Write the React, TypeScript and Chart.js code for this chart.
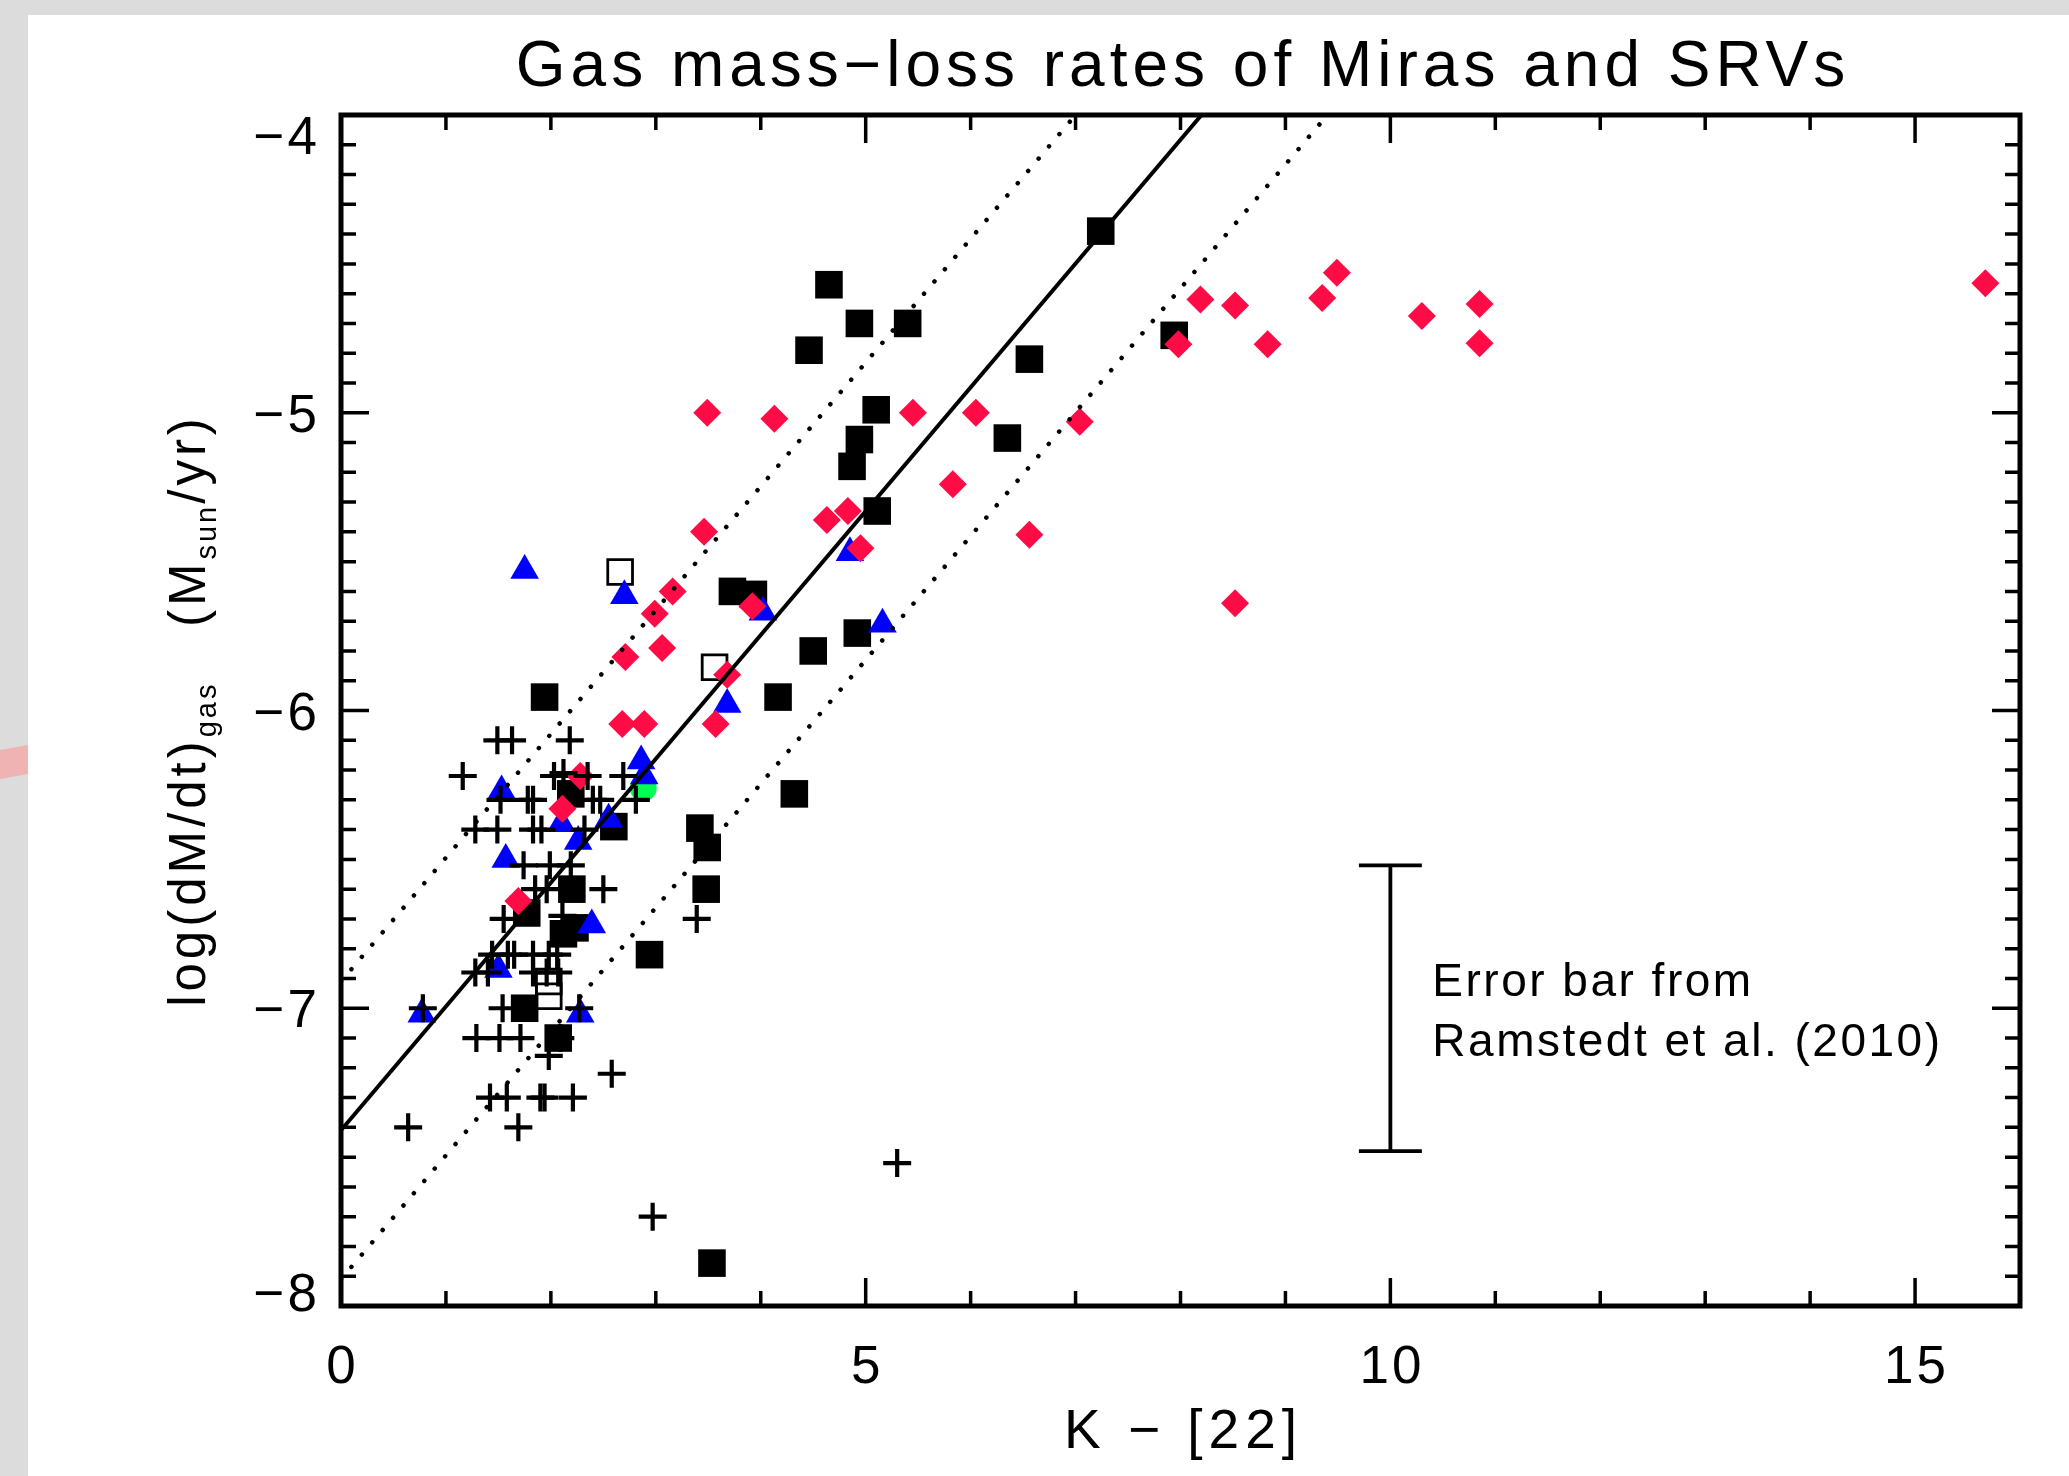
import React, { useEffect, useRef } from "react";
import { Chart, registerables } from "chart.js";

Chart.register(...registerables);

// ---------- axes ----------
const xRange = [0, 16];
const yRange = [-8, -4];
const xTickValues = [0, 5, 10, 15];
const xTickLabels = ["0", "5", "10", "15"];
const yTickValues = [-8, -7, -6, -5, -4];
const yTickLabels = ["−8", "−7", "−6", "−5", "−4"];
const xMinorStep = 1;
const yMinorStep = 0.1;

const titleText = "Gas mass−loss rates of Miras and SRVs";
const xTitleText = "K − [22]";
const errorNote = ["Error bar from", "Ramstedt et al. (2010)"];

// ---------- data ----------
// plus signs
const plusX = [
  1.49, 1.63, 2.18,
  1.16, 2.03, 2.12, 2.35, 2.69,
  1.52, 1.78, 1.83, 2.40, 2.47, 2.81,
  1.28, 1.49, 1.83, 1.91, 2.32,
  1.74, 1.99, 2.19,
  1.85, 1.96, 2.50,
  1.55, 2.11, 3.39,
  1.44, 1.59, 1.65, 1.83, 1.98, 2.06,
  1.28, 1.40, 1.83, 1.96, 2.07,
  0.78, 1.54, 2.27,
  1.29, 1.51, 1.71, 2.09,
  1.98, 2.58,
  1.42, 1.58, 1.90, 1.94, 2.21,
  0.64, 1.69,
  2.97, 5.30,
];
const plusY = [
  -6.10, -6.10, -6.10,
  -6.22, -6.22, -6.21, -6.22, -6.22,
  -6.30, -6.30, -6.30, -6.30, -6.30, -6.30,
  -6.40, -6.40, -6.40, -6.40, -6.40,
  -6.52, -6.52, -6.52,
  -6.60, -6.60, -6.60,
  -6.70, -6.69, -6.70,
  -6.82, -6.82, -6.82, -6.82, -6.82, -6.82,
  -6.88, -6.88, -6.88, -6.88, -6.88,
  -7.00, -7.00, -7.00,
  -7.10, -7.10, -7.10, -7.10,
  -7.16, -7.22,
  -7.30, -7.30, -7.30, -7.30, -7.30,
  -7.40, -7.40,
  -7.70, -7.52,
];

// filled black squares
const squareX = [
  7.24, 4.65, 4.94, 5.40, 4.46, 6.56, 7.94, 5.10, 4.94, 4.87, 6.35, 5.11,
  3.73, 3.93, 4.92, 4.50, 1.94, 4.165, 4.32, 3.42, 3.49, 3.48, 2.94, 3.535,
  2.60, 2.19, 2.20, 1.77, 2.12, 2.23, 1.75, 2.07,
];
const squareY = [
  -4.39, -4.57, -4.70, -4.70, -4.79, -4.82, -4.74, -4.99, -5.09, -5.18, -5.085, -5.33,
  -5.60, -5.61, -5.74, -5.80, -5.955, -5.955, -6.28, -6.395, -6.46, -6.60, -6.82, -7.856,
  -6.39, -6.28, -6.60, -6.68, -6.75, -6.73, -7.00, -7.10,
];

// open squares
const openSquareX = [2.66, 3.56, 1.98, 1.98];
const openSquareY = [-5.535, -5.855, -6.91, -6.96];

// blue triangles
const triangleX = [1.75, 2.70, 4.02, 4.85, 5.16, 3.68, 2.86, 2.89, 1.53, 2.55, 2.10, 2.26, 1.57, 2.39, 1.50, 0.77, 2.28];
const triangleY = [-5.53, -5.615, -5.67, -5.47, -5.71, -5.98, -6.17, -6.22, -6.27, -6.365, -6.38, -6.44, -6.50, -6.72, -6.87, -7.02, -7.02];

// red diamonds
const diamondX = [
  3.49, 4.13, 5.45, 6.05, 7.04, 5.83, 4.63, 4.83, 4.95, 3.46, 6.56, 3.16,
  2.99, 3.92, 2.71, 3.06, 3.68, 2.68, 2.89, 3.57, 2.28, 2.11, 1.69,
  8.19, 7.98, 8.52, 8.83, 9.35, 9.49, 10.30, 10.85, 10.85, 15.67, 8.52,
];
const diamondY = [
  -5.00, -5.02, -5.00, -5.00, -5.03, -5.24, -5.36, -5.33, -5.455, -5.40, -5.41, -5.60,
  -5.675, -5.65, -5.82, -5.79, -5.88, -6.045, -6.045, -6.045, -6.22, -6.33, -6.64,
  -4.62, -4.77, -4.64, -4.77, -4.615, -4.53, -4.675, -4.635, -4.767, -4.565, -5.64,
];

// green circle
const circleX = [2.88];
const circleY = [-6.26];

// fit line and +-0.5 dex lines (end points)
const fitX = [0, 8.2];
const fitY = [-7.41, -4.0];
const upperX = [0, 7.0];
const upperY = [-6.91, -4.0];
const lowerX = [0, 9.4];
const lowerY = [-7.91, -4.0];

// error bar
const errX = 10.0;
const errTop = -6.52;
const errBottom = -7.48;
const errCapHalf = 0.3;

const pts = (xs: number[], ys: number[]) => xs.map((x, i) => ({ x, y: ys[i] }));

const FONT = '"Liberation Sans", Arial, sans-serif';

function setFont(ctx: any, size: number, spacing: number) {
  ctx.font = `${size}px ${FONT}`;
  ctx.letterSpacing = `${spacing}px`;
}

const idlPlugin = {
  id: "idlFrame",
  afterDraw(chart: any) {
    const ctx = chart.ctx;
    const a = chart.chartArea;
    const xs = chart.scales.x;
    const ys = chart.scales.y;
    ctx.save();
    ctx.strokeStyle = "#000";
    ctx.fillStyle = "#000";
    ctx.lineCap = "butt";

    // ticks (inward, all four sides)
    ctx.lineWidth = 3.5;
    const nx = Math.round((xRange[1] - xRange[0]) / xMinorStep);
    for (let i = 0; i <= nx; i++) {
      const v = xRange[0] + i * xMinorStep;
      const px = xs.getPixelForValue(v);
      const major = xTickValues.some((t) => Math.abs(t - v) < 1e-6);
      const len = major ? 28 : 15;
      ctx.beginPath();
      ctx.moveTo(px, a.bottom);
      ctx.lineTo(px, a.bottom - len);
      ctx.moveTo(px, a.top);
      ctx.lineTo(px, a.top + len);
      ctx.stroke();
    }
    const ny = Math.round((yRange[1] - yRange[0]) / yMinorStep);
    for (let i = 0; i <= ny; i++) {
      const v = yRange[0] + i * yMinorStep;
      const py = ys.getPixelForValue(v);
      const major = yTickValues.some((t) => Math.abs(t - v) < 1e-6);
      const len = major ? 28 : 15;
      ctx.beginPath();
      ctx.moveTo(a.left, py);
      ctx.lineTo(a.left + len, py);
      ctx.moveTo(a.right, py);
      ctx.lineTo(a.right - len, py);
      ctx.stroke();
    }
    ctx.lineWidth = 5;
    ctx.strokeRect(a.left, a.top, a.right - a.left, a.bottom - a.top);

    // tick labels
    ctx.textBaseline = "alphabetic";
    setFont(ctx, 53, 3);
    ctx.textAlign = "center";
    xTickValues.forEach((v, i) => {
      ctx.fillText(xTickLabels[i], xs.getPixelForValue(v) + 1.5, a.bottom + 77);
    });
    ctx.textAlign = "right";
    yTickValues.forEach((v, i) => {
      let cy = ys.getPixelForValue(v);
      cy = Math.max(a.top + 20, Math.min(a.bottom - 14, cy));
      ctx.fillText(yTickLabels[i], a.left - 21, cy + 19);
    });

    // title
    const cx = (a.left + a.right) / 2;
    setFont(ctx, 64, 5);
    ctx.textAlign = "center";
    ctx.fillText(titleText, cx + 2.5, 86);

    // x title
    setFont(ctx, 55, 6);
    ctx.fillText(xTitleText, cx + 3, a.bottom + 142);

    // y title (rotated, with subscripts)
    const segs = [
      { t: "log(dM/dt)", s: 51, sp: 4, dy: 0 },
      { t: "gas", s: 29, sp: 3, dy: 11 },
      { t: "   (M", s: 51, sp: 4, dy: 0 },
      { t: "sun", s: 29, sp: 3, dy: 11 },
      { t: "/yr)", s: 51, sp: 4, dy: 0 },
    ];
    let total = 0;
    const widths = segs.map((g) => {
      setFont(ctx, g.s, g.sp);
      const w = ctx.measureText(g.t).width;
      total += w;
      return w;
    });
    ctx.save();
    ctx.translate(205, (a.top + a.bottom) / 2);
    ctx.rotate(-Math.PI / 2);
    ctx.textAlign = "left";
    let pos = -total / 2;
    segs.forEach((g, i) => {
      setFont(ctx, g.s, g.sp);
      ctx.fillText(g.t, pos, g.dy);
      pos += widths[i];
    });
    ctx.restore();

    // error bar note
    setFont(ctx, 46, 2.5);
    ctx.textAlign = "left";
    const nx0 = xs.getPixelForValue(errX + 0.4);
    ctx.fillText(errorNote[0], nx0, ys.getPixelForValue(-6.96));
    ctx.fillText(errorNote[1], nx0, ys.getPixelForValue(-7.16));

    ctx.letterSpacing = "0px";
    ctx.restore();
  },
};

export default function App() {
  const ref = useRef<HTMLCanvasElement>(null);

  useEffect(() => {
    document.body.style.margin = "0";
    document.body.style.overflow = "hidden";
    const lineBase = {
      type: "scatter" as const,
      showLine: true,
      pointRadius: 0,
      borderColor: "#000",
      fill: false,
      tension: 0,
      order: 0,
    };
    const datasets: any[] = [
      { ...lineBase, label: "fit", data: pts(fitX, fitY), borderWidth: 4 },
      {
        ...lineBase,
        label: "upper",
        data: pts(upperX, upperY),
        borderWidth: 4.5,
        borderDash: [0.1, 16],
        borderCapStyle: "round",
      },
      {
        ...lineBase,
        label: "lower",
        data: pts(lowerX, lowerY),
        borderWidth: 4.5,
        borderDash: [0.1, 16],
        borderCapStyle: "round",
      },
      {
        ...lineBase,
        label: "error bar",
        borderWidth: 3.8,
        spanGaps: false,
        data: [
          { x: errX - errCapHalf, y: errTop },
          { x: errX + errCapHalf, y: errTop },
          { x: errX, y: null },
          { x: errX, y: errTop },
          { x: errX, y: errBottom },
          { x: errX, y: null },
          { x: errX - errCapHalf, y: errBottom },
          { x: errX + errCapHalf, y: errBottom },
        ],
      },
      {
        label: "plus",
        data: pts(plusX, plusY),
        pointStyle: "cross",
        pointRadius: 14,
        borderColor: "#000",
        backgroundColor: "#000",
        borderWidth: 4.2,
        order: 1,
      },
      {
        label: "diamond",
        data: pts(diamondX, diamondY),
        pointStyle: "rectRot",
        pointRadius: 14,
        backgroundColor: "rgb(255,12,70)",
        borderWidth: 0,
        order: 2,
      },
      {
        label: "triangle",
        data: pts(triangleX, triangleY),
        pointStyle: "triangle",
        pointRadius: 16.5,
        backgroundColor: "#0000ff",
        borderWidth: 0,
        order: 3,
      },
      {
        label: "circle",
        data: pts(circleX, circleY),
        pointStyle: "circle",
        pointRadius: 13.5,
        backgroundColor: "rgb(0,255,80)",
        borderWidth: 0,
        order: 4,
      },
      {
        label: "open square",
        data: pts(openSquareX, openSquareY),
        pointStyle: "rect",
        pointRadius: 17.5,
        backgroundColor: "rgba(0,0,0,0)",
        borderColor: "#000",
        borderWidth: 2.8,
        order: 5,
      },
      {
        label: "square",
        data: pts(squareX, squareY),
        pointStyle: "rect",
        pointRadius: 19.5,
        backgroundColor: "#000",
        borderWidth: 0,
        order: 6,
      },
    ];

    const chart = new Chart(ref.current as HTMLCanvasElement, {
      type: "scatter",
      data: { datasets },
      options: {
        responsive: false,
        animation: false,
        devicePixelRatio: 1,
        events: [],
        layout: { padding: { left: 341, right: 49, top: 115, bottom: 170 } },
        plugins: {
          legend: { display: false },
          tooltip: { enabled: false },
          title: { display: false },
        },
        scales: {
          x: { type: "linear", min: xRange[0], max: xRange[1], display: false },
          y: { type: "linear", min: yRange[0], max: yRange[1], display: false },
        },
      } as any,
      plugins: [idlPlugin as any],
    });
    return () => chart.destroy();
  }, []);

  return (
    <div
      style={{
        position: "absolute",
        left: 0,
        top: 0,
        width: 2069,
        height: 1476,
        background: "#dcdcdc",
        overflow: "hidden",
      }}
    >
      <div
        style={{
          position: "absolute",
          left: 28,
          top: 15,
          width: 2041,
          height: 1461,
          background: "#ffffff",
        }}
      />
      <div
        style={{
          position: "absolute",
          left: 0,
          top: 745,
          width: 28,
          height: 34,
          background: "#f0b3b3",
          clipPath: "polygon(0 5px, 100% 0, 100% 29px, 0 34px)",
        }}
      />
      <canvas
        ref={ref}
        width={2069}
        height={1476}
        style={{ position: "absolute", left: 0, top: 0, width: 2069, height: 1476 }}
      />
    </div>
  );
}
